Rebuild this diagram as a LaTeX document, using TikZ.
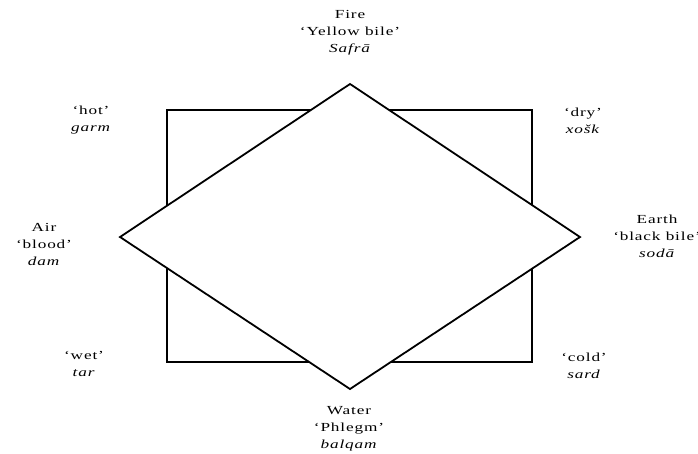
\documentclass[tikz,border=0pt]{standalone}
\usepackage{fontspec}
\setmainfont{Liberation Serif}[FakeStretch=1.4, LetterSpace=7]
\usepackage{tikz}
\usetikzlibrary{positioning, calc}

\begin{document}
\begin{tikzpicture}[
    x=1pt, y=-1pt,
    outline/.style={draw=black, line width=1.8pt, line join=miter},
    humour/.style={align=center, font=\fontsize{12.3}{17}\selectfont, inner sep=0pt},
    quality/.style={align=center, font=\fontsize{12.3}{17}\selectfont, inner sep=0pt}
]
\useasboundingbox (0,0) rectangle (698,453);

% Ecken
\coordinate (sqnw) at (167,110);
\coordinate (sqse) at (532,362);
\coordinate (top) at (350,84);
\coordinate (right) at (580,237);
\coordinate (bottom) at (350,389);
\coordinate (left) at (120,237);

% Figuren
\draw[outline] (sqnw) rectangle (sqse);
\draw[outline, fill=white] (top) -- (right) -- (bottom) -- (left) -- cycle;

% Elemente
\node[humour] (fire) at (350,33) {Fire\\`Yellow bile'\\\textit{Safrā}};
\node[humour] (earth) at (657,236) {Earth\\`black bile'\\\textit{sodā}};
\node[humour] (water) at (349,429) {Water\\`Phlegm'\\\textit{balqam}};
\node[humour] (air) at (44,244) {Air\\`blood'\\\textit{dam}};

% Qualitaeten
\node[quality] (hot) at (91,120) {`hot'\\\textit{garm}};
\node[quality] (dry) at (583,121) {`dry'\\\textit{xošk}};
\node[quality] (wet) at (84,364) {`wet'\\\textit{tar}};
\node[quality] (cold) at (584,366) {`cold'\\\textit{sard}};

\end{tikzpicture}
\end{document}
